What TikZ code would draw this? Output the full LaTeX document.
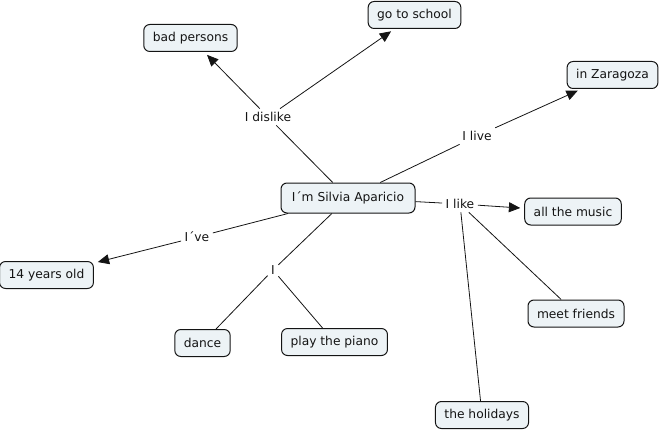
\documentclass[tikz,border=0pt]{standalone}
\usepackage{fontspec}
\setmainfont{DejaVu Sans}
\usetikzlibrary{arrows.meta}
\definecolor{boxfill}{RGB}{237,243,246}
\definecolor{ink}{RGB}{20,20,20}
\tikzset{
  concept/.style={draw=ink, fill=boxfill, rounded corners=4.5pt, line width=0.75pt,
    inner xsep=6.75pt, inner ysep=0pt, minimum height=20.25pt, text=ink,
    font=\fontsize{9.2pt}{11pt}\selectfont},
  link/.style={inner sep=2.5pt, text=ink, font=\fontsize{9.2pt}{11pt}\selectfont},
  conn/.style={draw=ink, line width=0.6pt},
  arr/.style={conn, -{Triangle[length=8.5pt,width=7.5pt]}, shorten >=3pt}
}
\begin{document}
\begin{tikzpicture}[x=0.75pt,y=-0.75pt]
\useasboundingbox (0,0) rectangle (659,431);
% concepts
\node[concept, minimum height=22.5pt, minimum width=100.5pt] (main) at (348,198) {I´m Silvia Aparicio};
\node[concept] (bad) at (190.5,38) {bad persons};
\node[concept] (school) at (414.5,15) {go to school};
\node[concept] (zara) at (612.5,75) {in Zaragoza};
\node[concept] (music) at (573,211.5) {all the music};
\node[concept] (years) at (46.5,275) {14 years old};
\node[concept] (dance) at (202.5,343) {dance};
\node[concept] (piano) at (334.5,342) {play the piano};
\node[concept] (meet) at (576,313.5) {meet friends};
\node[concept] (hol) at (482,415) {the holidays};
% linking phrases
\node[link] (dislike) at (268,117) {I dislike};
\node[link] (live) at (477,136) {I live};
\node[link] (like) at (460,204) {I like};
\node[link] (ive) at (197,237) {I´ve};
\node[link] (i) at (273,270) {I};
% connectors
\draw[conn] (main) -- (dislike);
\draw[arr] (dislike) -- (bad);
\draw[arr] (dislike) -- (school);
\draw[conn] (main) -- (live);
\draw[arr] (live) -- (zara);
\draw[conn] (main) -- (like);
\draw[arr] (like) -- (music);
\draw[conn] (like) -- (meet);
\draw[conn] (like) -- (hol);
\draw[conn] (main) -- (ive);
\draw[arr] (ive) -- (years);
\draw[conn] (main) -- (i);
\draw[conn] (i) -- (dance);
\draw[conn] (i) -- (piano);
\end{tikzpicture}
\end{document}
